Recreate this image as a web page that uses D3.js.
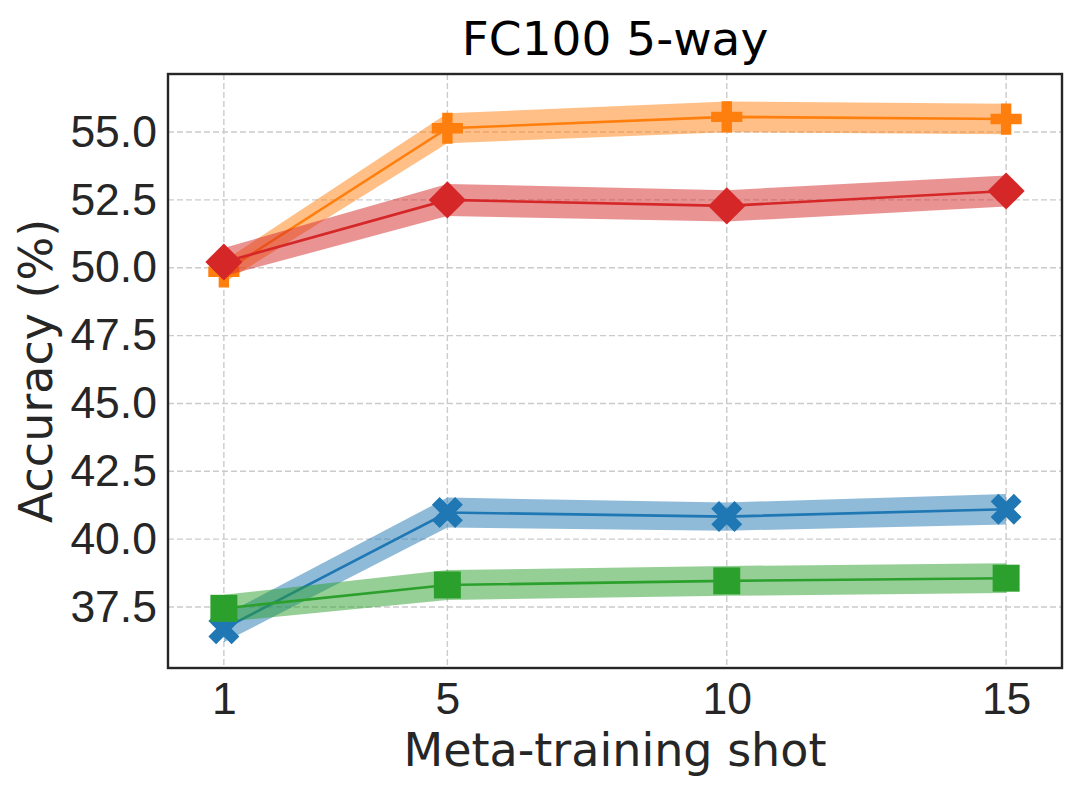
<!DOCTYPE html>
<html>
<head>
<meta charset="utf-8">
<script src="https://cdn.jsdelivr.net/npm/d3@7"></script>
<style>
  body { margin: 0; background: #fff; }
  text { font-family: "DejaVu Sans", sans-serif; fill: #262626; }
</style>
</head>
<body>
<svg id="chart" width="1079" height="791"></svg>
<script>
// shots on the x axis
var shots = [1, 5, 10, 15];
var yTicks = [37.5, 40.0, 42.5, 45.0, 47.5, 50.0, 52.5, 55.0];

// accuracy per method, and half-width of the shaded band
var blueAcc = [36.7, 40.98, 40.83, 41.1];
var blueCI = [0.5, 0.55, 0.52, 0.56];
var orangeAcc = [49.85, 55.14, 55.56, 55.48];
var orangeCI = [0.4, 0.55, 0.57, 0.56];
var greenAcc = [37.45, 38.31, 38.46, 38.56];
var greenCI = [0.5, 0.55, 0.55, 0.55];
var redAcc = [50.21, 52.5, 52.28, 52.83];
var redCI = [0.52, 0.59, 0.58, 0.57];

var series = [
	{ acc: blueAcc, ci: blueCI, color: "#1f77b4", marker: "x" },
	{ acc: orangeAcc, ci: orangeCI, color: "#ff7f0e", marker: "plus" },
	{ acc: greenAcc, ci: greenCI, color: "#2ca02c", marker: "square" },
	{ acc: redAcc, ci: redCI, color: "#d62728", marker: "diamond" }
];

var svg = d3.select("#chart");
var margin = { top: 74, right: 17, bottom: 123, left: 168 };
var width = 1079, height = 791;

const xScale = d3.scaleLinear()
	.domain([0, 16])
	.range([margin.left, width - margin.right]);
const yScale = d3.scaleLinear()
	.domain([35.25, 57.14])
	.range([height - margin.bottom, margin.top]);

// grid
svg.append("g").selectAll("line")
	.data(shots)
	.enter()
	.append("line")
	.attr("x1", d => xScale(d))
	.attr("x2", d => xScale(d))
	.attr("y1", margin.top)
	.attr("y2", height - margin.bottom)
	.attr("stroke", "#cbcbcb")
	.attr("stroke-width", 1.4)
	.attr("stroke-dasharray", "6,3");
svg.append("g").selectAll("line")
	.data(yTicks)
	.enter()
	.append("line")
	.attr("x1", margin.left)
	.attr("x2", width - margin.right)
	.attr("y1", d => yScale(d))
	.attr("y2", d => yScale(d))
	.attr("stroke", "#cbcbcb")
	.attr("stroke-width", 1.4)
	.attr("stroke-dasharray", "6,3");

// axes (labels only)
const xAxis = svg.append("g")
	.attr("transform", `translate(0, ${height - margin.bottom})`)
	.call(d3.axisBottom(xScale).tickValues(shots).tickSize(0).tickPadding(14));
xAxis.select(".domain").remove();
xAxis.selectAll("text").attr("dy", "0.71em");

const yAxis = svg.append("g")
	.attr("transform", `translate(${margin.left}, 0)`)
	.call(d3.axisLeft(yScale).tickValues(yTicks).tickFormat(d3.format(".1f")).tickSize(0).tickPadding(11));
yAxis.select(".domain").remove();

svg.selectAll(".tick text")
	.attr("fill", "#262626")
	.attr("font-size", "44.5px")
	.style("font-family", "'Liberation Sans', Arial, sans-serif");

// bands, lines, markers
const area = d3.area()
	.x((d, i) => xScale(shots[i]))
	.y0(d => yScale(d[0] - d[1]))
	.y1(d => yScale(d[0] + d[1]));
const line = d3.line()
	.x((d, i) => xScale(shots[i]))
	.y(d => yScale(d));

var crossPath = d3.symbol().type(d3.symbolCross);
var squarePath = d3.symbol().type(d3.symbolSquare);

series.forEach(s => {
	const g = svg.append("g");
	g.append("path")
		.attr("d", area(s.acc.map((a, i) => [a, s.ci[i]])))
		.attr("fill", s.color)
		.attr("fill-opacity", 0.5);
	g.append("path")
		.attr("d", line(s.acc))
		.attr("fill", "none")
		.attr("stroke", s.color)
		.attr("stroke-width", 2.6);
	g.selectAll("path.mk")
		.data(s.acc)
		.enter()
		.append("path")
		.attr("class", "mk")
		.attr("d", () => {
			if (s.marker == "x") return crossPath.size(600)();
			if (s.marker == "plus") return crossPath.size(540)();
			if (s.marker == "square") return squarePath.size(729)();
			return squarePath.size(690)();
		})
		.attr("transform", (d, i) => {
			var rot = (s.marker == "x" || s.marker == "diamond") ? " rotate(45)" : "";
			return `translate(${xScale(shots[i])}, ${yScale(d)})` + rot;
		})
		.attr("fill", s.color);
});

// frame
svg.append("rect")
	.attr("x", margin.left)
	.attr("y", margin.top)
	.attr("width", width - margin.left - margin.right)
	.attr("height", height - margin.top - margin.bottom)
	.attr("fill", "none")
	.attr("stroke", "#262626")
	.attr("stroke-width", 2.4);

// titles
svg.append("text")
	.attr("x", (margin.left + width - margin.right) / 2)
	.attr("y", 55)
	.attr("text-anchor", "middle")
	.attr("font-size", "47px")
	.attr("fill", "#000")
	.style("fill", "#000")
	.text("FC100 5-way");
svg.append("text")
	.attr("x", (margin.left + width - margin.right) / 2)
	.attr("y", 766)
	.attr("text-anchor", "middle")
	.attr("font-size", "46px")
	.text("Meta-training shot");
svg.append("text")
	.attr("transform", "rotate(-90)")
	.attr("x", -yScale((35.25 + 57.14) / 2))
	.attr("y", 52)
	.attr("text-anchor", "middle")
	.attr("font-size", "46px")
	.text("Accuracy (%)");
</script>
</body>
</html>
